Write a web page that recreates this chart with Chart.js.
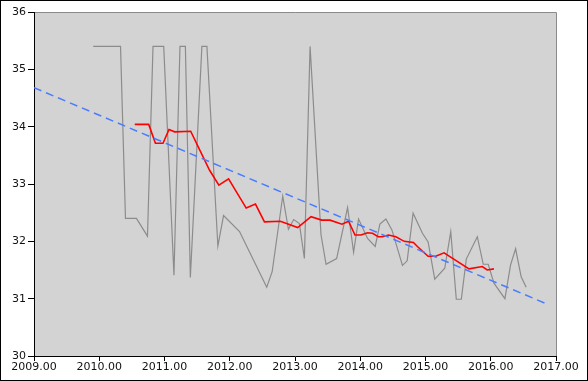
<!DOCTYPE html>
<html>
<head>
<meta charset="utf-8">
<script src="https://cdn.jsdelivr.net/npm/chart.js@4/dist/chart.umd.min.js"></script>
<style>
html,body{margin:0;padding:0;background:#fff;}
#wrap{width:588px;height:381px;position:relative;}
</style>
</head>
<body>
<div id="wrap"><canvas id="c" width="588" height="381"></canvas></div>
<script>
// Raw series (gray)
const rawYears = [2009.907,2010.326,2010.402,2010.570,2010.739,2010.824,2010.988,2011.145,2011.237,2011.320,2011.396,2011.573,2011.650,2011.818,2011.905,2012.150,2012.567,2012.650,2012.812,2012.899,2012.980,2013.067,2013.144,2013.231,2013.399,2013.476,2013.638,2013.806,2013.898,2013.974,2014.112,2014.229,2014.301,2014.393,2014.485,2014.647,2014.719,2014.810,2014.953,2015.040,2015.142,2015.295,2015.387,2015.472,2015.549,2015.625,2015.794,2015.885,2015.961,2016.049,2016.217,2016.304,2016.381,2016.466,2016.543];
const rawValues = [35.40,35.40,32.40,32.40,32.09,35.40,35.40,31.41,35.40,35.40,31.37,35.40,35.40,31.92,32.45,32.17,31.20,31.47,32.79,32.21,32.38,32.31,31.70,35.40,32.11,31.60,31.70,32.59,31.81,32.39,32.05,31.91,32.30,32.39,32.20,31.58,31.66,32.49,32.14,31.99,31.34,31.53,32.17,30.99,30.99,31.69,32.08,31.60,31.60,31.27,31.00,31.59,31.87,31.38,31.20];
// Moving average (red)
const avgYears = [2010.544,2010.758,2010.861,2010.977,2011.069,2011.156,2011.401,2011.691,2011.833,2011.982,2012.252,2012.394,2012.532,2012.777,2013.041,2013.246,2013.408,2013.537,2013.720,2013.821,2013.919,2014.011,2014.112,2014.188,2014.275,2014.341,2014.433,2014.546,2014.673,2014.815,2014.876,2015.040,2015.157,2015.284,2015.667,2015.870,2015.946,2016.049];
const avgValues = [34.04,34.04,33.71,33.71,33.95,33.91,33.92,33.24,32.98,33.09,32.58,32.65,32.34,32.35,32.24,32.43,32.37,32.37,32.30,32.35,32.11,32.11,32.15,32.14,32.08,32.08,32.11,32.08,32.00,31.98,31.91,31.74,31.74,31.80,31.52,31.56,31.50,31.52];
// Trend line (blue dashed)
const trendYears = [2009.0, 2016.875];
const trendValues = [34.68, 30.90];
// Axis ticks
const xTicks = [2009,2010,2011,2012,2013,2014,2015,2016,2017];
const yTicks = [30,31,32,33,34,35,36];

const pts = (xs, ys) => xs.map((x, i) => ({x: x, y: ys[i]}));

const bgPlugin = {
  id: 'bg',
  beforeDraw(chart) {
    const {ctx, chartArea: a} = chart;
    ctx.save();
    ctx.fillStyle = '#fff';
    ctx.fillRect(0, 0, chart.width, chart.height);
    ctx.fillStyle = '#d3d3d3';
    ctx.fillRect(a.left, a.top, a.right - a.left, a.bottom - a.top);
    ctx.strokeStyle = '#8a8a8a';
    ctx.lineWidth = 1;
    ctx.beginPath();
    ctx.moveTo(a.left, a.top + 0.5);
    ctx.lineTo(a.right + 0.5, a.top + 0.5);
    ctx.lineTo(a.right + 0.5, a.bottom);
    ctx.stroke();
    ctx.restore();
  },
  afterDraw(chart) {
    const ctx = chart.ctx;
    ctx.save();
    ctx.strokeStyle = '#000';
    ctx.lineWidth = 1;
    ctx.strokeRect(0.5, 0.5, chart.width - 1, chart.height - 1);
    ctx.restore();
  }
};

new Chart(document.getElementById('c'), {
  type: 'line',
  data: {
    datasets: [
      {data: pts(trendYears, trendValues), borderColor: '#4a7cff', borderWidth: 1.5, borderDash: [8, 5], pointRadius: 0, tension: 0},
      {data: pts(avgYears, avgValues), borderColor: '#ff0000', borderWidth: 1.6, pointRadius: 0, tension: 0},
      {data: pts(rawYears, rawValues), borderColor: '#8c8c8c', borderWidth: 1.2, pointRadius: 0, tension: 0}
    ]
  },
  options: {
    responsive: false,
    animation: false,
    devicePixelRatio: 1,
    layout: {padding: {top: 12, right: 32, left: 0, bottom: 0}},
    plugins: {legend: {display: false}, tooltip: {enabled: false}},
    scales: {
      x: {
        type: 'linear', min: 2009, max: 2017,
        afterBuildTicks(s) { s.ticks = xTicks.map(v => ({value: v})); },
        afterFit(s) { s.height = 25; },
        grid: {drawOnChartArea: false, drawTicks: true, tickLength: 5, color: '#000', tickColor: '#000'},
        border: {color: '#000', width: 1},
        ticks: {color: '#111', padding: 0, maxRotation: 0, autoSkip: false, font: {family: 'DejaVu Sans', size: 11},
          callback: v => Number(v).toFixed(2)}
      },
      y: {
        type: 'linear', min: 30, max: 36,
        afterBuildTicks(s) { s.ticks = yTicks.map(v => ({value: v})); },
        afterFit(s) { s.width = 34; },
        grid: {drawOnChartArea: false, drawTicks: true, tickLength: 6, color: '#000', tickColor: '#000'},
        border: {color: '#000', width: 1},
        ticks: {color: '#111', padding: 2, autoSkip: false, font: {family: 'DejaVu Sans', size: 11},
          callback: v => String(v)}
      }
    }
  },
  plugins: [bgPlugin]
});
</script>
</body>
</html>
